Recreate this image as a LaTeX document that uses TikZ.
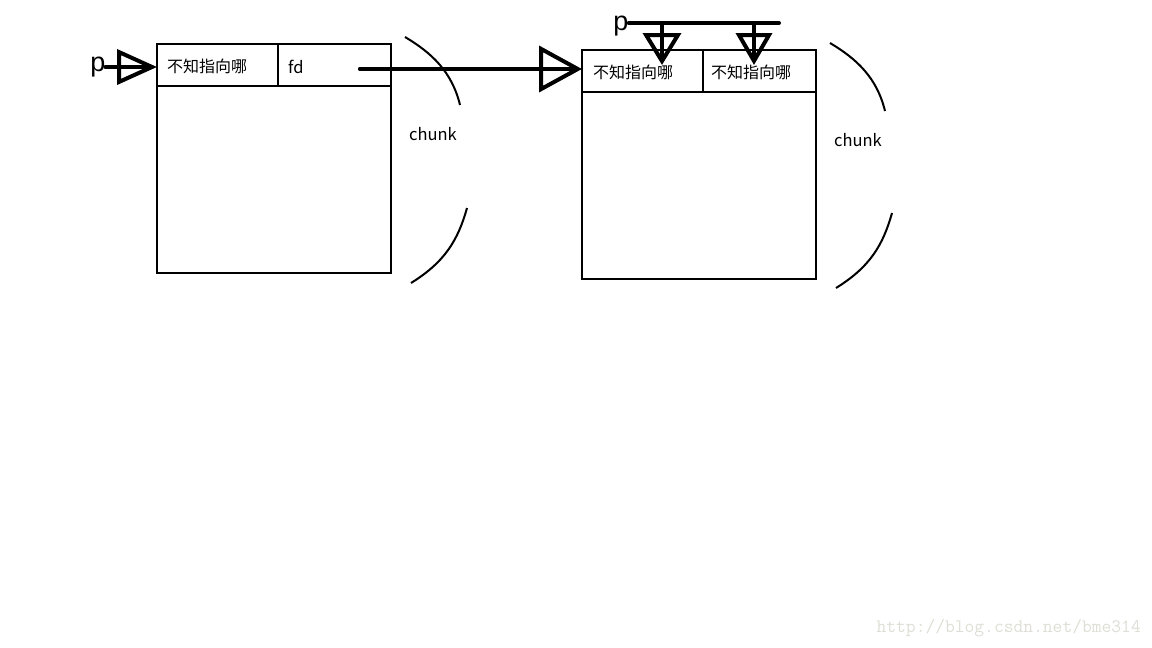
\documentclass[tikz,border=0pt]{standalone}
\usepackage{fontspec}
\usepackage{xcolor}
\usetikzlibrary{arrows.meta}
\usetikzlibrary{positioning}
\newfontfamily\cjk{Noto Sans CJK SC}
\newfontfamily\labelfont{Liberation Sans}
\definecolor{markGray}{RGB}{222,222,214}

\begin{document}
\begin{tikzpicture}[x=1pt,y=-1pt,
  box/.style={draw,line width=2.8pt,minimum width=234pt,minimum height=229pt,anchor=north west,inner sep=0pt,outer sep=0pt},
  rule/.style={line width=2.8pt},
  brace/.style={line width=2pt},
  cn/.style={font=\cjk\fontsize{16}{16}\selectfont,anchor=west,inner sep=0pt},
  lat/.style={font=\cjk\fontsize{16.5}{16.5}\selectfont,inner sep=0pt},
  plab/.style={font=\labelfont\fontsize{27}{27}\selectfont,inner sep=0pt},
  ptr/.style={line width=4pt,line cap=round,-{Triangle[open,length=#1]},postaction={draw,arrows=-,shorten >=5pt}},
  bar/.style={line width=4pt,line cap=round}]
\useasboundingbox (0,0) rectangle (1152,648);

\node[box] (chunk1) at (157,44) {};
\node[box] (chunk2) at (582,50) {};
\draw[rule] (157,86) -- (391,86);
\draw[rule] (278,44) -- (278,86);
\draw[rule] (582,92) -- (817,92);
\draw[rule] (703,50) -- (703,92);

\node[cn] (t1a) at (167,66) {不知指向哪};
\node[lat,anchor=west] (fd) at (288,67) {fd};
\node[cn] (t2a) at (593,72) {不知指向哪};
\node[cn] (t2b) at (711,72) {不知指向哪};
\node[lat] (ch1) at (433,134) {chunk};
\node[lat] (ch2) at (858,140) {chunk};
\node[plab] (p1) at (98,67) {p};
\node[plab] (p2) at (621,26) {p};

\coordinate (c1in) at (157,67);
\coordinate (fdtail) at (360,69);
\coordinate (barend) at (779,23);
\coordinate (d1) at (662,23);
\coordinate (d2) at (754,23);

\draw[ptr={40pt 0 0,width=35pt 0 0}] (p1.east |- c1in) -- (c1in);
\draw[ptr={43pt 0 0,width=46pt 0 0}] (fdtail) -- (fdtail -| chunk2.west);
\draw[bar] (p2.east |- barend) -- (barend);
\draw[ptr={32pt 0 0,width=38pt 0 0}] (d1) -- ++(0,42);
\draw[ptr={32pt 0 0,width=36pt 0 0}] (d2) -- ++(0,42);

\draw[brace] (405,37) .. controls (432,53) and (452,72) .. (460,105);
\draw[brace] (467,208) .. controls (458,240) and (445,262) .. (411,283);
\draw[brace] (830,43) .. controls (857,59) and (877,78) .. (885,111);
\draw[brace] (892,213) .. controls (883,245) and (870,267) .. (836,288);

\node[font=\ttfamily\fontsize{19}{19}\selectfont,text=markGray,anchor=east,inner sep=0pt] (mark) at (1141,628) {http://blog.csdn.net/bme314};
\end{tikzpicture}
\end{document}
